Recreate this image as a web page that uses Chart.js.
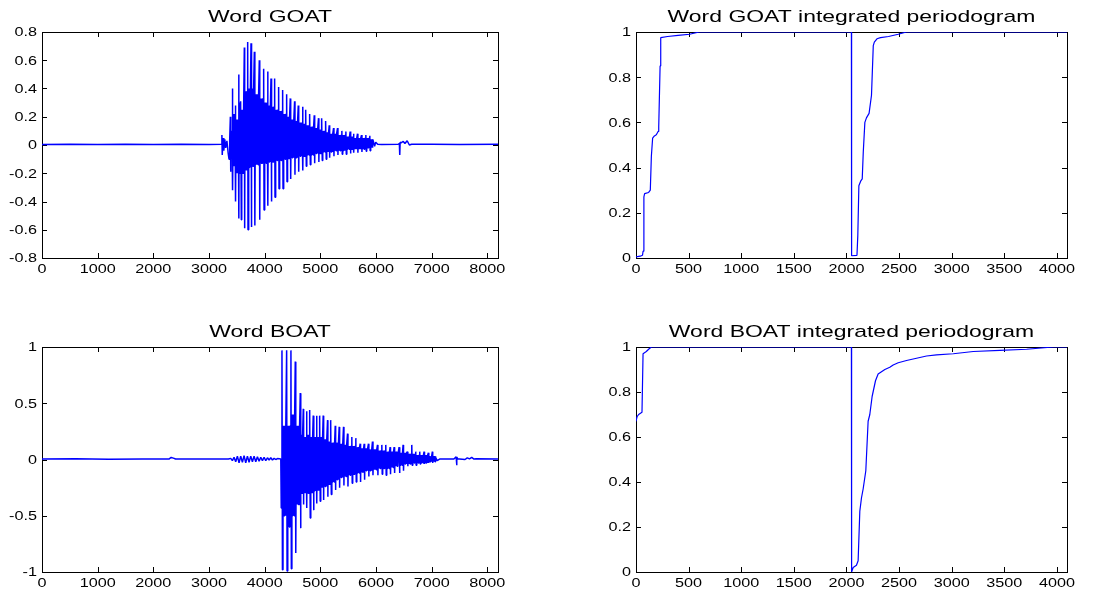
<!DOCTYPE html>
<html>
<head>
<meta charset="utf-8">
<script src="https://cdn.jsdelivr.net/npm/chart.js@4.4.0/dist/chart.umd.min.js"></script>
<style>
    html, body { margin: 0; padding: 0; background: #fff; }
    body { width: 1113px; height: 595px; position: relative; overflow: hidden; }
    canvas { position: absolute; }
</style>
</head>
<body>
<canvas id="goatWave" width="556" height="297" style="left:0;top:0"></canvas>
<canvas id="goatPer" width="557" height="297" style="left:556px;top:0"></canvas>
<canvas id="boatWave" width="556" height="298" style="left:0;top:297px"></canvas>
<canvas id="boatPer" width="557" height="298" style="left:556px;top:297px"></canvas>
<script>
// --- Word GOAT waveform (sample index / amplitude) ---
const goatStartX = [0, 500, 1000, 1500, 2000, 2500, 3000, 3220, 3232, 3238, 3252, 3266, 3284, 3300, 3322, 3345, 3360, 3372];
const goatStartY = [0.004, 0.006, 0.003, 0.006, 0.004, 0.006, 0.004, 0.005, 0.07, -0.07, 0.05, -0.04, 0.04, -0.02, 0.03, -0.06, -0.10, 0.04];
const goatPulseX = [3384, 3426, 3474, 3534, 3575, 3635, 3695, 3755, 3815, 3904, 3982, 4054, 4114, 4179, 4251, 4323, 4395, 4460, 4538, 4604,
                    4682, 4741, 4813, 4891, 4968, 5028, 5100, 5160, 5238, 5309, 5387, 5459, 5536, 5596, 5668, 5740, 5818, 5889];
const goatPulseHi = [0.20, 0.40, 0.28, 0.50, 0.31, 0.69, 0.73, 0.72, 0.66, 0.60, 0.54, 0.52, 0.47, 0.47, 0.41, 0.39, 0.36, 0.33, 0.31, 0.28,
                     0.27, 0.25, 0.22, 0.21, 0.19, 0.19, 0.17, 0.14, 0.12, 0.12, 0.10, 0.095, 0.095, 0.08, 0.08, 0.07, 0.07, 0.065];
const goatPulseLo = [-0.19, -0.32, -0.40, -0.52, -0.53, -0.59, -0.60, -0.58, -0.57, -0.53, -0.46, -0.43, -0.40, -0.37, -0.31, -0.31, -0.26, -0.24, -0.21, -0.19,
                     -0.18, -0.15, -0.14, -0.13, -0.12, -0.11, -0.10, -0.09, -0.08, -0.07, -0.065, -0.065, -0.06, -0.055, -0.055, -0.05, -0.045, -0.04];
const goatInnerHi = [0.10, 0.22, 0.18, 0.30, 0.25, 0.38, 0.40, 0.40, 0.36, 0.33, 0.30, 0.28, 0.27, 0.25, 0.24, 0.22, 0.20, 0.18, 0.17, 0.16,
                     0.15, 0.14, 0.13, 0.12, 0.11, 0.10, 0.09, 0.08, 0.08, 0.07, 0.07, 0.06, 0.06, 0.05, 0.05, 0.05, 0.05, 0.04];
const goatInnerLo = [-0.08, -0.15, -0.20, -0.20, -0.20, -0.18, -0.16, -0.15, -0.14, -0.13, -0.13, -0.12, -0.12, -0.11, -0.11, -0.10, -0.10, -0.09, -0.09, -0.08,
                     -0.08, -0.07, -0.07, -0.06, -0.06, -0.05, -0.05, -0.05, -0.04, -0.04, -0.04, -0.03, -0.03, -0.03, -0.03, -0.03, -0.02, -0.02];
const goatEndX = [5950, 5975, 5995, 6030, 6100, 6400, 6420, 6427, 6434, 6450, 6490, 6520, 6560, 6600, 6640, 7000, 7500, 8192];
const goatEndY = [0.03, -0.01, 0.02, 0.005, 0.004, 0.006, 0.01, -0.07, 0.02, 0.015, 0.025, 0.01, 0.03, 0.0, 0.005, 0.006, 0.004, 0.005];

// --- Word BOAT waveform ---
const boatStartX = [0, 600, 1200, 1800, 2280, 2320, 2360, 2400, 3000, 3350,
                    3390, 3420, 3450, 3480, 3510, 3540, 3570, 3600, 3630, 3660, 3690, 3720, 3750, 3780, 3810,
                    3840, 3870, 3900, 3930, 3960, 3990, 4020, 4050, 4080, 4110, 4140, 4170, 4200, 4230, 4290, 4298];
const boatStartY = [0.004, 0.006, 0.003, 0.005, 0.004, 0.018, 0.012, 0.004, 0.005, 0.004,
                    0.01, -0.01, 0.02, -0.02, 0.03, -0.03, 0.03, -0.025, 0.035, -0.03, 0.03, -0.025, 0.03, -0.02, 0.03,
                    -0.02, 0.025, -0.015, 0.02, -0.01, 0.02, -0.01, 0.015, -0.005, 0.015, -0.005, 0.01, 0.0, 0.008, 0.005, -0.43];
const boatPulseX = [4311, 4395, 4472, 4550, 4640, 4694, 4753, 4813, 4873, 4933, 4992, 5052, 5130, 5190, 5268, 5339, 5417, 5489, 5566, 5638,
                    5716, 5788, 5865, 5937, 6027, 6105, 6176, 6254, 6326, 6415, 6487, 6565, 6643, 6714, 6786, 6864, 6942, 7013];
const boatPulseHi = [0.97, 0.97, 0.97, 0.87, 0.59, 0.45, 0.43, 0.44, 0.39, 0.39, 0.39, 0.39, 0.35, 0.35, 0.30, 0.29, 0.29, 0.23, 0.20, 0.19,
                     0.14, 0.14, 0.14, 0.16, 0.13, 0.13, 0.13, 0.11, 0.11, 0.11, 0.13, 0.07, 0.13, 0.07, 0.07, 0.07, 0.06, 0.07];
const boatPulseLo = [-0.98, -0.99, -0.97, -0.83, -0.61, -0.40, -0.43, -0.52, -0.45, -0.39, -0.37, -0.36, -0.33, -0.31, -0.27, -0.25, -0.23, -0.24, -0.21, -0.20,
                     -0.20, -0.18, -0.15, -0.14, -0.14, -0.13, -0.14, -0.13, -0.12, -0.12, -0.10, -0.06, -0.05, -0.05, -0.04, -0.04, -0.03, -0.03];
const boatInnerHi = [0.30, 0.30, 0.40, 0.30, 0.22, 0.20, 0.22, 0.20, 0.20, 0.20, 0.20, 0.18, 0.16, 0.15, 0.15, 0.14, 0.13, 0.12, 0.12, 0.11,
                     0.10, 0.10, 0.09, 0.09, 0.08, 0.08, 0.07, 0.07, 0.07, 0.06, 0.06, 0.05, 0.05, 0.04, 0.04, 0.04, 0.03, 0.03];
const boatInnerLo = [-0.50, -0.60, -0.50, -0.40, -0.30, -0.30, -0.30, -0.30, -0.28, -0.27, -0.25, -0.24, -0.22, -0.20, -0.18, -0.16, -0.15, -0.14, -0.13, -0.12,
                     -0.11, -0.10, -0.10, -0.09, -0.08, -0.08, -0.08, -0.07, -0.06, -0.05, -0.04, -0.04, -0.03, -0.03, -0.03, -0.03, -0.02, -0.02];
const boatEndX = [7075, 7100, 7150, 7400, 7440, 7448, 7455, 7470, 7500, 7600, 7640, 7680, 7720, 7760, 7800, 8192];
const boatEndY = [0.02, -0.01, 0.005, 0.005, 0.025, -0.05, 0.02, 0.005, 0.005, 0.0, 0.015, 0.005, 0.018, 0.004, 0.006, 0.005];

// --- integrated periodograms ---
const goatPerX = [0, 40, 62, 67, 75, 82, 120, 136, 146, 158, 175, 193, 210, 216, 229, 235, 300, 400, 510, 600,
                  2047, 2049, 2100, 2108, 2118, 2135, 2150, 2160, 2175, 2190, 2215, 2238, 2255, 2265, 2290, 2324, 2400, 2492, 2571, 4096];
const goatPerY = [0.005, 0.008, 0.012, 0.03, 0.27, 0.285, 0.29, 0.30, 0.45, 0.53, 0.54, 0.545, 0.56, 0.58, 0.85, 0.975, 0.98, 0.985, 0.99, 1.0,
                  1.0, 0.01, 0.012, 0.10, 0.32, 0.34, 0.35, 0.47, 0.60, 0.62, 0.64, 0.72, 0.94, 0.955, 0.97, 0.975, 0.98, 0.99, 1.0, 1.0];
const boatPerX = [0, 10, 25, 57, 67, 98, 120, 146, 2047, 2049, 2064, 2095, 2111, 2127, 2143, 2159, 2184, 2206, 2222,
                  2244, 2276, 2301, 2333, 2365, 2412, 2444, 2492, 2571, 2666, 2761, 2856, 3015, 3205, 3458, 3712, 3966, 4096];
const boatPerY = [0.67, 0.69, 0.70, 0.71, 0.97, 0.98, 0.99, 1.0, 1.0, 0.0, 0.02, 0.03, 0.05, 0.27, 0.33, 0.37, 0.45, 0.67, 0.70,
                  0.78, 0.85, 0.88, 0.89, 0.90, 0.91, 0.92, 0.93, 0.94, 0.95, 0.96, 0.965, 0.97, 0.98, 0.985, 0.99, 1.0, 1.0];

// tick values
const waveXTicks = [0, 1000, 2000, 3000, 4000, 5000, 6000, 7000, 8000];
const perXTicks = [0, 500, 1000, 1500, 2000, 2500, 3000, 3500, 4000];
const goatYTicks = [-0.8, -0.6, -0.4, -0.2, 0, 0.2, 0.4, 0.6, 0.8];
const boatYTicks = [-1, -0.5, 0, 0.5, 1];
const perYTicks = [0, 0.2, 0.4, 0.6, 0.8, 1];

const toPoints = (xs, ys) => xs.map((x, i) => ({x: x, y: ys[i]}));

// where the ringing sits inside one pitch period (fraction of the period)
const ringSteps = [0.22, 0.30, 0.38, 0.46, 0.54, 0.62, 0.70, 0.78, 0.86];

// one pitch period: big spike up, big spike down, then the ringing inside
const buildWave = (startX, startY, px, hi, lo, inHi, inLo, endX, endY) => {
    const pts = toPoints(startX, startY);
    px.forEach((x, i) => {
        const gap = (i < px.length - 1 ? px[i + 1] : endX[0]) - x;
        pts.push({x: x, y: hi[i]});
        pts.push({x: x + gap * 0.1, y: lo[i]});
        ringSteps.forEach((f, k) => {
            pts.push({x: x + gap * f, y: k % 2 === 0 ? inHi[i] : inLo[i]});
        });
    });
    return pts.concat(toPoints(endX, endY));
};

// matlab figure text looks stretched sideways
const STRETCH = 1.35;
const FONT = '"Liberation Sans", Arial, sans-serif';

const drawText = (ctx, str, x, y, align, size) => {
    ctx.save();
    ctx.font = size + 'px ' + FONT;
    ctx.translate(x, y);
    ctx.scale(STRETCH, 1);
    ctx.textAlign = align;
    ctx.textBaseline = 'alphabetic';
    ctx.fillStyle = '#000';
    ctx.fillText(str, 0, 0);
    ctx.restore();
};

const matlabAxes = {
    id: 'matlabAxes',
    beforeDatasetsDraw(chart, args, opts) {
        const {ctx, chartArea: a, scales: {x, y}} = chart;
        ctx.save();
        ctx.strokeStyle = '#000';
        ctx.lineWidth = 1;
        ctx.strokeRect(a.left + 0.5, a.top + 0.5, a.right - a.left, a.bottom - a.top);
        ctx.beginPath();
        opts.xTicks.forEach(v => {
            const p = Math.round(x.getPixelForValue(v)) + 0.5;
            ctx.moveTo(p, a.bottom); ctx.lineTo(p, a.bottom - 5);
            ctx.moveTo(p, a.top); ctx.lineTo(p, a.top + 5);
        });
        opts.yTicks.forEach(v => {
            const p = Math.round(y.getPixelForValue(v)) + 0.5;
            ctx.moveTo(a.left, p); ctx.lineTo(a.left + 5, p);
            ctx.moveTo(a.right, p); ctx.lineTo(a.right - 5, p);
        });
        ctx.stroke();
        ctx.restore();
    },
    afterDraw(chart, args, opts) {
        const {ctx, chartArea: a, scales: {x, y}} = chart;
        opts.xTicks.forEach(v => drawText(ctx, String(v), x.getPixelForValue(v), a.bottom + 14.5, 'center', 12));
        opts.yTicks.forEach(v => drawText(ctx, String(v), a.left - 5, y.getPixelForValue(v) + 4.3, 'right', 12));
        drawText(ctx, opts.title, (a.left + a.right) / 2, a.top - 10, 'center', 17);
    }
};

const makePanel = (id, points, xMax, yMin, yMax, xTicks, yTicks, title, pad, lineWidth) => {
    new Chart(document.getElementById(id), {
        type: 'line',
        data: {
            datasets: [{
                data: points,
                borderColor: '#0000ff',
                borderWidth: lineWidth,
                borderJoinStyle: 'bevel',
                pointRadius: 0,
                fill: false,
                tension: 0
            }]
        },
        options: {
            responsive: false,
            animation: false,
            parsing: false,
            normalized: true,
            layout: {padding: pad},
            plugins: {
                legend: {display: false},
                tooltip: {enabled: false},
                title: {display: false},
                matlabAxes: {xTicks: xTicks, yTicks: yTicks, title: title}
            },
            scales: {
                x: {
                    type: 'linear', min: 0, max: xMax,
                    ticks: {display: false}, grid: {display: false}, border: {display: false},
                    afterFit: s => { s.height = 0; }
                },
                y: {
                    type: 'linear', min: yMin, max: yMax,
                    ticks: {display: false}, grid: {display: false}, border: {display: false},
                    afterFit: s => { s.width = 0; }
                }
            }
        },
        plugins: [matlabAxes]
    });
};

makePanel('goatWave',
    buildWave(goatStartX, goatStartY, goatPulseX, goatPulseHi, goatPulseLo, goatInnerHi, goatInnerLo, goatEndX, goatEndY),
    8192, -0.8, 0.8, waveXTicks, goatYTicks, 'Word GOAT', {left: 42, top: 32, right: 58, bottom: 39}, 1.5);
makePanel('goatPer', toPoints(goatPerX, goatPerY),
    4096, 0, 1, perXTicks, perYTicks, 'Word GOAT integrated periodogram', {left: 80, top: 32, right: 46, bottom: 39}, 1.2);
makePanel('boatWave',
    buildWave(boatStartX, boatStartY, boatPulseX, boatPulseHi, boatPulseLo, boatInnerHi, boatInnerLo, boatEndX, boatEndY),
    8192, -1, 1, waveXTicks, boatYTicks, 'Word BOAT', {left: 42, top: 50, right: 58, bottom: 23}, 1.5);
makePanel('boatPer', toPoints(boatPerX, boatPerY),
    4096, 0, 1, perXTicks, perYTicks, 'Word BOAT integrated periodogram', {left: 80, top: 50, right: 46, bottom: 23}, 1.2);
</script>
</body>
</html>
